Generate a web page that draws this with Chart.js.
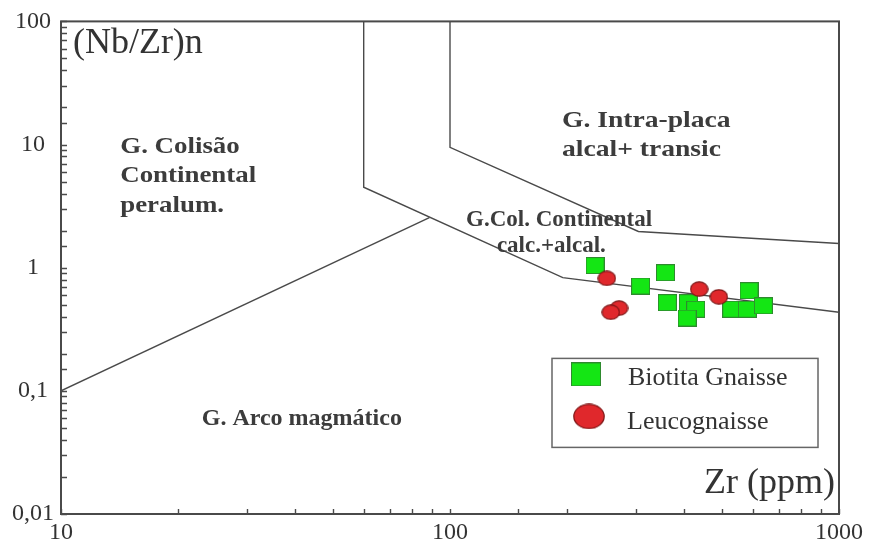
<!DOCTYPE html>
<html>
<head>
<meta charset="utf-8">
<script src="https://cdn.jsdelivr.net/npm/chart.js@4.4.0/dist/chart.umd.min.js"></script>
<style>
  body { margin: 0; background: #fff; }
  #wrap { width: 878px; height: 542px; }
</style>
</head>
<body>
<div id="wrap"><canvas id="nbzrChart" width="878" height="542"></canvas></div>
<script>
// Samples: Zr (ppm) vs (Nb/Zr)n
const biotitaZr = [236, 309, 358, 362, 410, 428, 407, 530, 581, 587, 639];
const biotitaNbZr = [1.04, 0.71, 0.91, 0.52, 0.52, 0.46, 0.39, 0.46, 0.46, 0.65, 0.49];
const leucoZr = [253, 272, 259, 437, 491];
const leucoNbZr = [0.82, 0.47, 0.435, 0.67, 0.58];

// Field boundaries
const boundAZr = [60, 60, 195, 1000];
const boundANbZr = [100, 4.5, 0.83, 0.435];
const boundBZr = [100, 100, 305, 1000];
const boundBNbZr = [100, 9.5, 1.97, 1.57];
const boundCZr = [10, 88.5];
const boundCNbZr = [0.1, 2.55];

// Tick labels shown on the axes
const xTickLabels = [10, 100, 1000];
const yTickLabels = [0.01, 0.1, 1, 10, 100];

const serif = "'Liberation Serif', 'Times New Roman', serif";
const inkColor = '#333';
const frameColor = '#4a4a4a';

function toPoints(xs, ys) {
    return xs.map((x, i) => ({ x: x, y: ys[i] }));
}

// Marker sprites (the reference uses slightly flattened squares and ellipses)
function makeSquare(w, h) {
    const c = document.createElement('canvas');
    c.width = w; c.height = h;
    const g = c.getContext('2d');
    g.fillStyle = '#14e614';
    g.fillRect(0, 0, w, h);
    g.strokeStyle = '#2e8a2e';
    g.lineWidth = 1;
    g.strokeRect(0.5, 0.5, w - 1, h - 1);
    return c;
}

function makeEllipse(w, h) {
    const c = document.createElement('canvas');
    c.width = w; c.height = h;
    const g = c.getContext('2d');
    g.beginPath();
    g.ellipse(w / 2, h / 2, w / 2 - 0.8, h / 2 - 0.8, 0, 0, Math.PI * 2);
    g.fillStyle = '#e0282c';
    g.fill();
    g.strokeStyle = '#7a1414';
    g.lineWidth = 1.2;
    g.stroke();
    return c;
}

const squareMark = makeSquare(19, 17);
const ellipseMark = makeEllipse(19, 16);
const squareLegend = makeSquare(30, 24);
const ellipseLegend = makeEllipse(32, 26);

// Field names, anchored at data coordinates (left edge, baseline of first line)
const fieldLabels = [
    { lines: ['G. Colisão', 'Continental', 'peralum.'], zr: 14.2, nbzr: 8.55, size: 24, stretch: 1.12, step: 29.5 },
    { lines: ['G. Intra-placa', 'alcal+ transic'], zr: 194, nbzr: 13.8, size: 24, stretch: 1.15, step: 29 },
    { lines: ['G.Col. Continental'], zr: 110, nbzr: 2.17, size: 23, stretch: 1.0, step: 0 },
    { lines: ['calc.+alcal.'], zr: 132, nbzr: 1.34, size: 23, stretch: 1.0, step: 0 },
    { lines: ['G. Arco magmático'], zr: 23, nbzr: 0.0528, size: 24, stretch: 1.0, step: 0 }
];

function isLabelled(value, list) {
    return list.find(v => Math.abs(Math.log10(v) - Math.log10(value)) < 1e-6);
}

function formatTick(value) {
    return String(value).replace('.', ',');
}

const diagramExtras = {
    id: 'diagramExtras',
    beforeDatasetsDraw(chart) {
        const ctx = chart.ctx;
        const area = chart.chartArea;
        const xs = chart.scales.x;
        const ys = chart.scales.y;
        ctx.save();
        // inward tick marks
        ctx.strokeStyle = frameColor;
        ctx.lineWidth = 1.4;
        ctx.beginPath();
        xs.ticks.forEach(t => {
            const px = Math.round(xs.getPixelForValue(t.value)) + 0.5;
            ctx.moveTo(px, area.bottom);
            ctx.lineTo(px, area.bottom - 5);
        });
        ys.ticks.forEach(t => {
            const py = Math.round(ys.getPixelForValue(t.value)) + 0.5;
            ctx.moveTo(area.left, py);
            ctx.lineTo(area.left + 6, py);
        });
        ctx.stroke();
        ctx.restore();
    },
    afterDraw(chart) {
        const ctx = chart.ctx;
        const area = chart.chartArea;
        const xs = chart.scales.x;
        const ys = chart.scales.y;
        ctx.save();

        // frame
        ctx.strokeStyle = frameColor;
        ctx.lineWidth = 2;
        ctx.strokeRect(area.left, area.top, area.right - area.left, area.bottom - area.top);

        // field names
        ctx.fillStyle = '#3c3c3c';
        ctx.textBaseline = 'alphabetic';
        ctx.textAlign = 'left';
        fieldLabels.forEach(f => {
            const x0 = xs.getPixelForValue(f.zr);
            const y0 = ys.getPixelForValue(f.nbzr);
            ctx.font = 'bold ' + f.size + 'px ' + serif;
            f.lines.forEach((txt, i) => {
                ctx.save();
                ctx.translate(x0, y0 + i * f.step);
                ctx.scale(f.stretch, 1);
                ctx.fillText(txt, 0, 0);
                ctx.restore();
            });
        });

        // axis titles inside the frame
        ctx.fillStyle = inkColor;
        ctx.font = '36px ' + serif;
        ctx.textAlign = 'left';
        ctx.fillText('(Nb/Zr)n', xs.getPixelForValue(10.73), ys.getPixelForValue(55.3));
        ctx.textAlign = 'right';
        ctx.fillText('Zr (ppm)', xs.getPixelForValue(976), ys.getPixelForValue(0.0148));

        // legend box
        const lx = area.right - 287, ly = area.top + 337, lw = 266, lh = 89;
        ctx.fillStyle = '#fff';
        ctx.fillRect(lx, ly, lw, lh);
        ctx.strokeStyle = '#666';
        ctx.lineWidth = 1.5;
        ctx.strokeRect(lx, ly, lw, lh);
        ctx.drawImage(squareLegend, lx + 19, ly + 4);
        ctx.drawImage(ellipseLegend, lx + 21, ly + 45);
        ctx.fillStyle = inkColor;
        ctx.font = '26px ' + serif;
        ctx.textAlign = 'left';
        ctx.fillText('Biotita Gnaisse', lx + 76, ly + 27);
        ctx.fillText('Leucognaisse', lx + 75, ly + 71);

        ctx.restore();
    }
};

function boundary(xs, ys) {
    return {
        type: 'line',
        data: toPoints(xs, ys),
        showLine: true,
        borderColor: '#4a4a4a',
        borderWidth: 1.4,
        pointRadius: 0,
        fill: false,
        tension: 0,
        order: 5
    };
}

const ctx = document.getElementById('nbzrChart').getContext('2d');

new Chart(ctx, {
    type: 'scatter',
    data: {
        datasets: [
            {
                label: 'Leucognaisse',
                data: toPoints(leucoZr, leucoNbZr),
                pointStyle: ellipseMark,
                pointRadius: 9,
                order: 1
            },
            {
                label: 'Biotita Gnaisse',
                data: toPoints(biotitaZr, biotitaNbZr),
                pointStyle: squareMark,
                pointRadius: 9,
                order: 2
            },
            boundary(boundAZr, boundANbZr),
            boundary(boundBZr, boundBNbZr),
            boundary(boundCZr, boundCNbZr)
        ]
    },
    options: {
        responsive: false,
        animation: false,
        layout: {
            padding: { left: 0, right: 39, top: 16, bottom: 0 }
        },
        plugins: {
            legend: { display: false },
            tooltip: { enabled: false }
        },
        scales: {
            x: {
                type: 'logarithmic',
                min: 10,
                max: 1000,
                grid: { display: false, drawTicks: false },
                border: { display: false },
                ticks: {
                    autoSkip: false,
                    maxRotation: 0,
                    padding: 4,
                    color: inkColor,
                    font: { family: serif, size: 24 },
                    callback: function(value) {
                        return isLabelled(value, xTickLabels) ? formatTick(value) : '';
                    }
                },
                afterFit: function(scale) { scale.height = 28; }
            },
            y: {
                type: 'logarithmic',
                min: 0.01,
                max: 100,
                grid: { display: false, drawTicks: false },
                border: { display: false },
                ticks: {
                    autoSkip: false,
                    crossAlign: 'center',
                    padding: 7,
                    color: inkColor,
                    font: { family: serif, size: 24 },
                    callback: function(value) {
                        return isLabelled(value, yTickLabels) ? formatTick(value) : '';
                    }
                },
                afterFit: function(scale) { scale.width = 61; }
            }
        }
    },
    plugins: [diagramExtras]
});
</script>
</body>
</html>
